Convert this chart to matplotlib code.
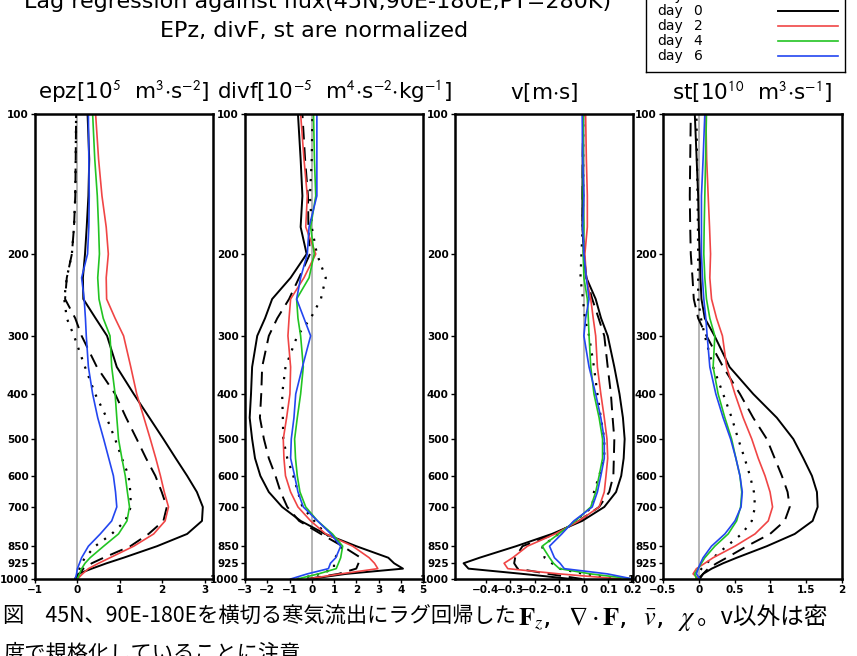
import matplotlib
matplotlib.use('Agg')
import matplotlib.pyplot as plt

plt.rcParams['mathtext.fontset'] = 'stix'

# ---------------- data ----------------
levels = [1000, 975, 950, 925, 900, 850, 800, 750, 700, 650, 600, 550, 500,
          450, 400, 350, 300, 275, 250, 225, 200, 175, 150, 125, 100]
days = [-4, -2, 0, 2, 4, 6]
day_labels = ['-4', '-2', '0', '2', '4', '6']

# epz
epz_dm4 = [-0.05, 0.0, 0.05, 0.10, 0.18, 0.42, 0.81, 1.13, 1.26, 1.25, 1.21, 1.05, 0.89,
           0.69, 0.42, 0.18, -0.08, -0.25, -0.31, -0.25, -0.13, -0.08, -0.05, -0.04, -0.03]
epz_dm2 = [-0.03, 0.05, 0.14, 0.34, 0.62, 1.25, 1.68, 2.03, 2.11, 1.99, 1.84, 1.62, 1.40,
           1.15, 0.89, 0.46, 0.10, -0.05, -0.29, -0.25, -0.13, -0.08, -0.05, -0.04, -0.03]
epz_d0 = [-0.05, 0.02, 0.34, 0.69, 1.09, 1.88, 2.59, 2.94, 2.96, 2.82, 2.59, 2.32, 2.03,
          1.70, 1.33, 0.93, 0.70, 0.43, 0.14, 0.13, 0.18, 0.22, 0.26, 0.28, 0.24]
epz_d2 = [0.0, 0.12, 0.26, 0.50, 0.77, 1.33, 1.80, 2.07, 2.15, 2.05, 1.96, 1.85, 1.72,
          1.57, 1.40, 1.26, 1.09, 0.89, 0.69, 0.68, 0.73, 0.68, 0.58, 0.50, 0.43]
epz_d4 = [0.0, 0.05, 0.10, 0.18, 0.30, 0.62, 0.97, 1.17, 1.23, 1.18, 1.13, 1.05, 0.97,
          0.93, 0.89, 0.81, 0.77, 0.61, 0.51, 0.48, 0.52, 0.50, 0.47, 0.41, 0.36]
epz_d6 = [-0.05, -0.02, 0.0, 0.05, 0.10, 0.26, 0.54, 0.81, 0.93, 0.90, 0.85, 0.74, 0.62,
          0.48, 0.36, 0.26, 0.21, 0.19, 0.16, 0.10, 0.24, 0.27, 0.28, 0.27, 0.26]

# divf
divf_dm4 = [-0.65, 0.4, 1.0, 1.0, 1.05, 1.38, 0.63, 0.11, -0.42, -0.62, -0.83, -1.10, -1.28,
            -1.30, -1.33, -1.18, -0.65, -0.05, 0.41, 0.63, 0.23, 0.0, -0.08, 0.0, 0.03]
divf_dm2 = [-0.2, 1.2, 2.0, 2.1, 2.2, 1.38, 0.41, -0.57, -1.10, -1.40, -1.63, -1.93, -2.15,
            -2.33, -2.27, -2.23, -1.93, -1.55, -1.02, -0.57, -0.08, -0.15, -0.17, -0.30, -0.42]
divf_d0 = [-0.1, 1.54, 4.1, 3.7, 3.44, 2.0, 0.6, -0.5, -1.33, -1.93, -2.31, -2.55, -2.68,
           -2.79, -2.73, -2.68, -2.45, -2.10, -1.78, -0.95, -0.23, -0.50, -0.42, -0.50, -0.62]
divf_d2 = [-0.2, 1.3, 2.97, 2.82, 2.58, 1.84, 0.63, -0.05, -0.62, -0.95, -1.18, -1.25, -1.28,
           -1.13, -0.98, -0.95, -1.07, -1.02, -0.95, -0.35, 0.18, -0.27, -0.20, -0.35, -0.50]
divf_d4 = [-0.65, 0.3, 1.1, 1.2, 1.3, 1.39, 0.93, 0.26, -0.27, -0.53, -0.65, -0.73, -0.77,
           -0.65, -0.50, -0.38, -0.50, -0.62, -0.68, -0.12, 0.11, -0.05, 0.18, 0.12, 0.08]
divf_d6 = [-0.95, -0.2, 0.75, 0.84, 1.08, 1.30, 0.86, 0.26, -0.38, -0.62, -0.77, -0.95, -0.92,
           -0.80, -0.72, -0.42, -0.05, -0.35, -0.68, -0.50, -0.20, -0.12, 0.23, 0.23, 0.23]

# v
v_dm4 = [0.15, 0.0, -0.10, -0.13, -0.16, -0.17, -0.103, -0.034, 0.034, 0.041, 0.062, 0.083, 0.083,
         0.069, 0.055, 0.041, 0.021, 0.004, -0.004, -0.014, -0.010, -0.005, -0.003, -0.003, -0.003]
v_dm2 = [-0.007, -0.145, -0.27, -0.284, -0.28, -0.25, -0.117, -0.02, 0.062, 0.103, 0.12, 0.122, 0.124,
         0.117, 0.11, 0.097, 0.083, 0.06, 0.034, 0.01, 0.0, -0.005, -0.005, -0.005, -0.003]
v_d0 = [-0.05, -0.25, -0.47, -0.49, -0.425, -0.276, -0.13, -0.007, 0.083, 0.131, 0.152, 0.162, 0.166,
        0.159, 0.145, 0.124, 0.097, 0.07, 0.048, 0.01, 0.0, -0.006, -0.006, -0.005, -0.003]
v_d2 = [0.15, -0.10, -0.31, -0.325, -0.29, -0.23, -0.117, -0.02, 0.062, 0.083, 0.09, 0.097, 0.094,
        0.083, 0.069, 0.055, 0.048, 0.038, 0.028, 0.01, 0.004, 0.014, 0.014, 0.01, 0.007]
v_d4 = [0.2, 0.027, -0.10, -0.124, -0.14, -0.17, -0.103, -0.034, 0.028, 0.048, 0.062, 0.076, 0.076,
        0.062, 0.041, 0.028, 0.021, 0.018, 0.014, 0.0, -0.003, 0.0, -0.003, -0.003, -0.003]
v_d6 = [0.2, 0.096, -0.08, -0.097, -0.12, -0.14, -0.09, -0.041, 0.034, 0.055, 0.069, 0.083, 0.083,
        0.069, 0.048, 0.021, 0.0, 0.007, 0.021, 0.01, 0.0, -0.005, 0.0, -0.005, -0.007]

# st
st_dm4 = [-0.033, 0.0, 0.037, 0.107, 0.2, 0.39, 0.6, 0.74, 0.785, 0.77, 0.715, 0.64, 0.55,
          0.46, 0.34, 0.2, 0.084, 0.03, -0.009, -0.009, -0.009, -0.012, -0.018, -0.025, -0.033]
st_dm2 = [-0.009, 0.06, 0.13, 0.25, 0.39, 0.67, 0.995, 1.2, 1.27, 1.24, 1.16, 1.06, 0.95,
          0.76, 0.575, 0.34, 0.107, -0.009, -0.07, -0.088, -0.112, -0.12, -0.126, -0.12, -0.112]
st_d0 = [0.014, 0.06, 0.18, 0.34, 0.53, 0.95, 1.34, 1.59, 1.66, 1.65, 1.58, 1.46, 1.32,
         1.09, 0.76, 0.43, 0.22, 0.084, 0.037, 0.023, 0.014, 0.0, -0.009, -0.03, -0.056]
st_d2 = [0.0, -0.08, -0.033, 0.084, 0.2, 0.505, 0.785, 0.97, 1.03, 0.995, 0.925, 0.83, 0.74,
         0.62, 0.505, 0.39, 0.33, 0.248, 0.178, 0.154, 0.164, 0.15, 0.131, 0.11, 0.098]
st_d4 = [-0.033, -0.056, -0.009, 0.037, 0.084, 0.224, 0.41, 0.528, 0.584, 0.6, 0.575, 0.518, 0.458,
         0.364, 0.27, 0.2, 0.224, 0.154, 0.107, 0.084, 0.07, 0.075, 0.084, 0.095, 0.107]
st_d6 = [0.014, -0.033, -0.009, 0.023, 0.06, 0.177, 0.364, 0.505, 0.59, 0.607, 0.575, 0.518, 0.444,
         0.34, 0.238, 0.154, 0.117, 0.098, 0.07, 0.051, 0.037, 0.037, 0.037, 0.06, 0.084]

panel_titles = [r'epz[10$^{\mathsf{5}}$  m$^{\mathsf{3}}$$\cdot$s$^{\mathsf{-2}}$]',
                r'divf[10$^{\mathsf{-5}}$  m$^{\mathsf{4}}$$\cdot$s$^{\mathsf{-2}}$$\cdot$kg$^{\mathsf{-1}}$]',
                r'v[m$\cdot$s]',
                r'st[10$^{\mathsf{10}}$  m$^{\mathsf{3}}$$\cdot$s$^{\mathsf{-1}}$]']
panel_series = [[epz_dm4, epz_dm2, epz_d0, epz_d2, epz_d4, epz_d6],
                [divf_dm4, divf_dm2, divf_d0, divf_d2, divf_d4, divf_d6],
                [v_dm4, v_dm2, v_d0, v_d2, v_d4, v_d6],
                [st_dm4, st_dm2, st_d0, st_d2, st_d4, st_d6]]
panel_xlims = [(-1, 3.2), (-3, 5), (-0.525, 0.2), (-0.5, 2)]
panel_xticks = [[-1, 0, 1, 2, 3],
                [-3, -2, -1, 0, 1, 2, 3, 4, 5],
                [-0.4, -0.3, -0.2, -0.1, 0, 0.1, 0.2],
                [-0.5, 0, 0.5, 1, 1.5, 2]]
panel_xticklabels = [['−1', '0', '1', '2', '3'],
                     ['−3', '−2', '−1', '0', '1', '2', '3', '4', '5'],
                     ['−0.4', '−0.3', '−0.2', '−0.1', '0', '0.1', '0.2'],
                     ['−0.5', '0', '0.5', '1', '1.5', '2']]
ylevels_ticks = [100, 200, 300, 400, 500, 600, 700, 850, 925, 1000]

title1 = 'Lag regression against flux(45N,90E-180E,PT=280K)'
title2 = 'EPz, divF, st are normalized'
caption1a = '図　45N、90E-180Eを横切る寒気流出にラグ回帰した'
caption1b = r'$\mathbf{F}_{z}$,  $\nabla \cdot \mathbf{F}$,  $\bar{v}$,  $\chi$'
caption1c = '。v以外は密'
caption2 = '度で規格化していることに注意'

# ---------------- styles ----------------
colors = ['black', 'black', 'black', '#f04545', '#22c422', '#2346f0']
styles = [(0, (1, 3.5)), (0, (7, 4)), '-', '-', '-', '-']
widths = [1.6, 1.4, 1.4, 1.2, 1.2, 1.2]

W, H = 857, 656
fig = plt.figure(figsize=(W / 100, H / 100), dpi=100)
fig.patch.set_facecolor('white')

lefts = [35, 245, 455, 663]
rights = [213, 423, 633, 842]
top_px, bot_px = 114, 579


def fx(px):
    return px / W


def fy(py):
    return 1 - py / H


for i in range(4):
    ax = fig.add_axes([fx(lefts[i]), fy(bot_px), fx(rights[i] - lefts[i]),
                       (bot_px - top_px) / H])
    ax.set_yscale('log')
    ax.set_ylim(1000, 100)
    ax.set_xlim(*panel_xlims[i])
    ax.axvline(0, color='#a8a8a8', lw=1.2, zorder=1)
    for s, c, ls, lw in zip(panel_series[i], colors, styles, widths):
        ax.plot(s, levels, color=c, linestyle=ls, lw=lw, zorder=2)
    ax.set_yticks(ylevels_ticks)
    ax.set_yticklabels([str(t) for t in ylevels_ticks])
    ax.minorticks_off()
    ax.set_xticks(panel_xticks[i])
    ax.set_xticklabels(panel_xticklabels[i])
    ax.tick_params(direction='out', length=3, width=1, pad=1.5, labelsize=7.5)
    for lab in ax.get_xticklabels() + ax.get_yticklabels():
        lab.set_fontweight('bold')
    for sp in ax.spines.values():
        sp.set_linewidth(1.8)
    fig.text(fx((lefts[i] + rights[i]) / 2), fy(92), panel_titles[i],
             ha='center', va='center', fontsize=15.5)

# titles (top, partly cut off)
fig.text(fx(318), fy(8), title1, ha='center', va='baseline', fontsize=16)
fig.text(fx(314), fy(37), title2, ha='center', va='baseline', fontsize=16)

# legend box (top part is outside the figure)
lax = fig.add_axes([fx(646), fy(72), fx(199), (72 + 36) / H])
lax.set_xlim(0, 199)
lax.set_ylim(72, -36)
lax.set_xticks([])
lax.set_yticks([])
for sp in lax.spines.values():
    sp.set_linewidth(1.0)
rows_y = [-19, -4, 11, 26, 41, 56]
for yv, lab, c, ls, lw in zip(rows_y, day_labels, colors, styles, widths):
    lax.text(11, yv, 'day', ha='left', va='center', fontsize=10)
    lax.text(52, yv, lab, ha='center', va='center', fontsize=10)
    lax.plot([132, 192], [yv, yv], color=c, linestyle=ls, lw=lw)

# caption (partly cut off at right and bottom), pieces placed one after another
cjk = ['Noto Sans CJK JP', 'DejaVu Sans']
renderer = fig.canvas.get_renderer()
t_a = fig.text(fx(3), fy(617), caption1a, ha='left', va='center', fontsize=15.3,
               family=cjk)
x_next = t_a.get_window_extent(renderer=renderer).x1 + 2
t_b = fig.text(x_next / W, fy(619), caption1b, ha='left', va='center', fontsize=19)
x_next = t_b.get_window_extent(renderer=renderer).x1 + 1
fig.text(x_next / W, fy(617), caption1c, ha='left', va='center', fontsize=17,
         family=cjk)
fig.text(fx(3), fy(654), caption2, ha='left', va='center', fontsize=15.3,
         family=cjk)

fig.savefig('out.png', dpi=100)
